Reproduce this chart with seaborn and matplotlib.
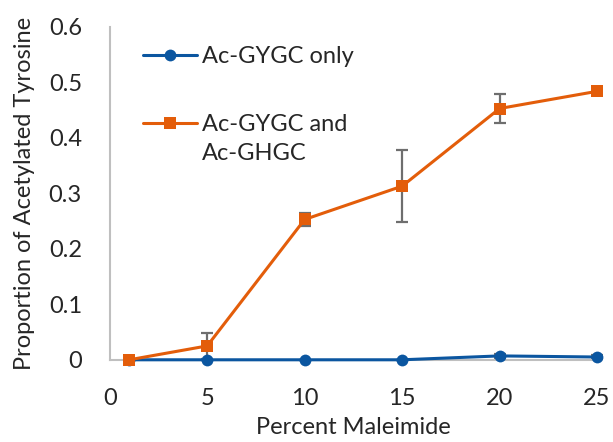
import pandas as pd
import seaborn as sns
import matplotlib.pyplot as plt
from matplotlib.legend_handler import HandlerLine2D

# datos
percent = [1, 5, 10, 15, 20, 25]
gygc_only = [0.0, 0.0, 0.0, 0.0, 0.007, 0.005]
gygc_only_err = [0.0, 0.0, 0.0, 0.0, 0.003, 0.003]
gygc_ghgc = [0.0, 0.025, 0.253, 0.313, 0.453, 0.484]
gygc_ghgc_err = [0.0, 0.023, 0.012, 0.065, 0.027, 0.0]

series_names = ['Ac-GYGC only', 'Ac-GYGC and\nAc-GHGC']
colores = ['#0B56A0', '#E35D0A']

df = pd.DataFrame({
    'Percent Maleimide': percent * 2,
    'valor': gygc_only + gygc_ghgc,
    'err': gygc_only_err + gygc_ghgc_err,
    'serie': [series_names[0]] * len(percent) + [series_names[1]] * len(percent),
})

FS = 17

sns.set_style('white')
plt.rcParams['font.family'] = ['Lato', 'DejaVu Sans']

fig = plt.figure(figsize=(6.13, 4.42), dpi=100)
ax = fig.add_axes([0.179, 0.186, 0.795, 0.753])

# barras de error (gris, detras de las lineas)
for nombre in series_names:
    sub = df[df['serie'] == nombre]
    ax.errorbar(sub['Percent Maleimide'], sub['valor'], yerr=sub['err'],
                fmt='none', ecolor='#6E6E6E', elinewidth=1.6, capsize=4,
                capthick=1.6, zorder=1)

sns.lineplot(
    data=df,
    x='Percent Maleimide',
    y='valor',
    hue='serie',
    style='serie',
    palette=colores,
    markers=['o', 's'],
    dashes=False,
    markersize=8.5,
    markeredgewidth=0,
    linewidth=2.2,
    ax=ax,
    zorder=3,
)
for ln in ax.lines:
    ln.set_clip_on(False)

ax.set_xlim(0, 25)
ax.set_ylim(0, 0.6)
ax.set_xticks([0, 5, 10, 15, 20, 25])
ax.set_yticks([0, 0.1, 0.2, 0.3, 0.4, 0.5, 0.6])
ax.set_yticklabels(['0', '0.1', '0.2', '0.3', '0.4', '0.5', '0.6'])
ax.tick_params(axis='both', labelsize=FS, length=0)
ax.tick_params(axis='y', pad=20)
ax.tick_params(axis='x', pad=20)
ax.set_xlabel('Percent Maleimide', fontsize=FS, labelpad=6)
ax.set_ylabel('Proportion of Acetylated Tyrosine', fontsize=FS, labelpad=10)

for lado in ['top', 'right']:
    ax.spines[lado].set_visible(False)
for lado in ['left', 'bottom']:
    ax.spines[lado].set_color('#BFBFBF')
    ax.spines[lado].set_linewidth(1.5)


# el simbolo de la leyenda va a la altura de la primera linea del texto
class HandlerArriba(HandlerLine2D):
    def __init__(self, dy=0, **kw):
        super().__init__(**kw)
        self.dy = dy

    def create_artists(self, legend, orig_handle, xdescent, ydescent,
                       width, height, fontsize, trans):
        return super().create_artists(legend, orig_handle, xdescent,
                                      ydescent - 2 * self.dy, width, height,
                                      fontsize, trans)


handles, labels = ax.get_legend_handles_labels()
leg = ax.legend(handles, labels, loc='upper left',
                bbox_to_anchor=(143 / 613, 1 - 46 / 442),
                bbox_transform=fig.transFigure, frameon=False,
                fontsize=FS, labelspacing=2.0, handlelength=2.3,
                handletextpad=0.2, borderpad=0, borderaxespad=0,
                handler_map={handles[1]: HandlerArriba(dy=11.5)})
for t in leg.get_texts():
    t.set_linespacing(1.45)

plt.savefig('out.png', dpi=100)
